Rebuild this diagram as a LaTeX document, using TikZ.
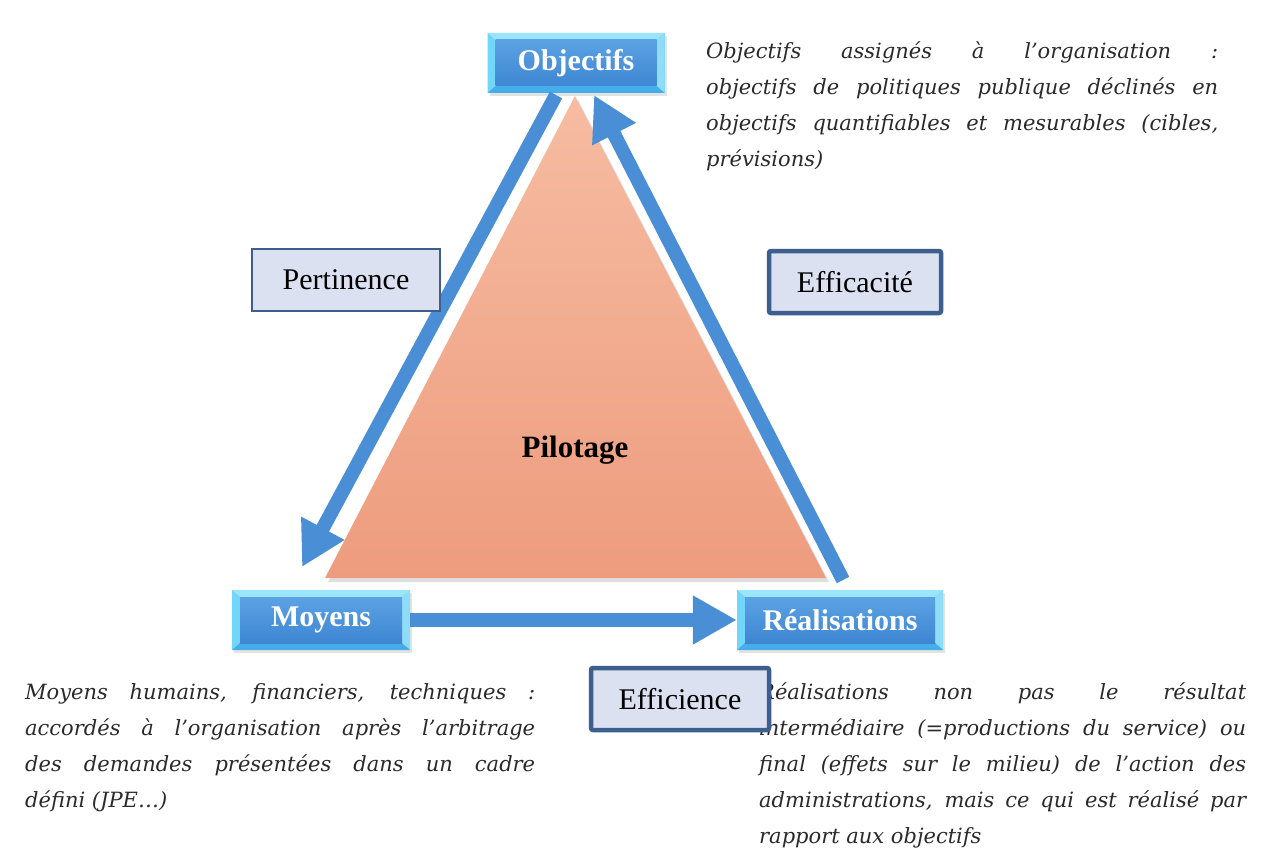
\documentclass[tikz,border=0pt]{standalone}
\usepackage{fontspec}
\setmainfont{Liberation Serif}
\newfontfamily\descfont{DejaVu Serif}
\usetikzlibrary{arrows.meta,shadows}
\definecolor{arrowblue}{HTML}{4A8FD6}
\definecolor{bevtop}{HTML}{9CE4FB}
\definecolor{bevleft}{HTML}{72D6F8}
\definecolor{bevright}{HTML}{8EDCF8}
\definecolor{bevbot}{HTML}{45AEEA}
\definecolor{innertop}{HTML}{5BA2E4}
\definecolor{innerbot}{HTML}{3E86D2}
\definecolor{labfill}{HTML}{DCE1F2}
\definecolor{labdraw}{HTML}{3C5F8E}
\definecolor{tritop}{HTML}{F6BCA2}
\definecolor{tribot}{HTML}{EE9C7E}
\definecolor{desc}{HTML}{2A2A2A}
\tikzset{
  bevelbox/.style={minimum width=#1, minimum height=60pt, inner sep=0pt,
    fill=bevcyanfill, text=white, font=\fontsize{30}{34}\selectfont\bfseries,
    drop shadow={opacity=0.22, shadow xshift=2pt, shadow yshift=-3pt},
    path picture={
      \path (path picture bounding box.north west) coordinate (pnw)
            (path picture bounding box.north east) coordinate (pne)
            (path picture bounding box.south east) coordinate (pse)
            (path picture bounding box.south west) coordinate (psw);
      \path ([shift={(8pt,-7pt)}]pnw) coordinate (qnw)
            ([shift={(-8pt,-7pt)}]pne) coordinate (qne)
            ([shift={(-8pt,7pt)}]pse) coordinate (qse)
            ([shift={(8pt,7pt)}]psw) coordinate (qsw);
      \fill[bevtop] (pnw)--(pne)--(qne)--(qnw)--cycle;
      \fill[bevleft] (pnw)--(qnw)--(qsw)--(psw)--cycle;
      \fill[bevright] (pne)--(pse)--(qse)--(qne)--cycle;
      \fill[bevbot] (psw)--(qsw)--(qse)--(pse)--cycle;
      \shade[top color=innertop,bottom color=innerbot] (qnw) rectangle (qse);
    }},
  labelbox/.style={draw=labdraw, fill=labfill, line width=#1, rounded corners=2pt,
    minimum height=62pt, inner sep=0pt, font=\fontsize{30}{34}\selectfont, text=black},
  flow/.style={draw=arrowblue, line width=14pt, -{Triangle[width=46pt,length=44pt]}},
  desctext/.style={anchor=north west, inner sep=0pt, text=desc, align=justify,
    text width=#1, font=\descfont\itshape\fontsize{21}{36}\selectfont}
}
\colorlet{bevcyanfill}{bevleft}
\begin{document}
\begin{tikzpicture}[x=1pt,y=-1pt]
\useasboundingbox[fill=white] (0,0) rectangle (1277,848);

% triangle
\shade[top color=tritop, bottom color=tribot,
  drop shadow={opacity=0.25, shadow xshift=3pt, shadow yshift=-4pt}]
  (575,96) -- (325,578) -- (826,578) -- cycle;
\node[font=\fontsize{31}{34}\selectfont\bfseries, text=black] (pil) at (575,450) {Pilotage};

% main boxes
\node[bevelbox=177pt] (obj) at (576,63) {Objectifs};
\node[bevelbox=178pt] (moy) at (321,620) {Moyens};
\node[bevelbox=206pt] (rea) at (840,620) {Réalisations};

% arrow endpoints
\coordinate (objL) at (556,95);
\coordinate (moyT) at (302,567);
\coordinate (reaT) at (843,580);
\coordinate (objR) at (594,95);

\draw[flow] (objL) -- (moyT);
\draw[flow] (reaT) -- (objR);
\draw[flow] (moy.east) -- (rea.west);

% descriptions
\node[desctext=512pt] (dobj) at (706,42) {Objectifs assignés à l’organisation :\linebreak
objectifs de politiques publique déclinés en\linebreak
objectifs quantifiables et mesurables (cibles,\linebreak
prévisions)};
\node[desctext=510pt] (dmoy) at (25,683) {Moyens humains, financiers, techniques :\linebreak
accordés à l’organisation après l’arbitrage\linebreak
des demandes présentées dans un cadre\linebreak
défini (JPE…)};
\node[desctext=487pt] (drea) at (759,682) {Réalisations non pas le résultat\linebreak
intermédiaire (=productions du service) ou\linebreak
final (effets sur le milieu) de l’action des\linebreak
administrations, mais ce qui est réalisé par\linebreak
rapport aux objectifs};

% label boxes
\node[labelbox=2pt, minimum width=188pt, rounded corners=0pt] (pert) at (346,280) {Pertinence};
\node[labelbox=4.5pt, minimum width=172pt] (effa) at (855,282) {Efficacité};
\node[labelbox=4.5pt, minimum width=178pt] (effi) at (680,699) {Efficience};
\end{tikzpicture}
\end{document}
